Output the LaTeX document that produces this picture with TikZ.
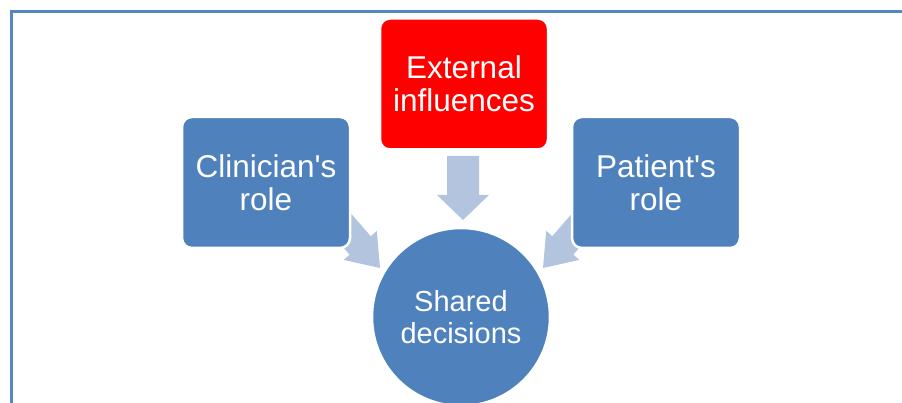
\documentclass[tikz,border=0pt]{standalone}
\usepackage{fontspec}
\setmainfont{Liberation Sans}[Ligatures=TeXOff]
\definecolor{accblue}{RGB}{79,129,189}
\definecolor{arrblue}{RGB}{179,196,222}
\definecolor{framecol}{RGB}{84,134,192}
\tikzset{
  rolebox/.style={draw=white, line width=2.5pt, rounded corners=10pt, fill=accblue,
    minimum width=168pt, minimum height=131pt, inner sep=0pt, text=white,
    font=\fontsize{31.5}{33}\selectfont, align=center},
  hub/.style={circle, draw=white, line width=2.5pt, fill=accblue, minimum size=178pt,
    inner sep=0pt, text=white, font=\fontsize{29}{32}\selectfont, align=center},
  blockarrow/.style={fill=arrblue, draw=none}
}
\newcommand{\blockarr}[6]{% tip, angle, L, hl, hw, sw
  \begin{scope}[shift={(#1)}, rotate=#2]
    \fill[blockarrow] (0,0) -- (-#4,#5/2) -- (-#4,#6/2) -- (-#3,#6/2) -- (-#3,-#6/2) -- (-#4,-#6/2) -- (-#4,-#5/2) -- cycle;
  \end{scope}}
\begin{document}
\begin{tikzpicture}[x=1pt,y=1pt]
\useasboundingbox (0,0) rectangle (902,403);
\fill[white] (0,0) rectangle (902,403);
\draw[framecol, line width=2.5pt] (11.5,-5) -- (11.5,391.5) -- (910,391.5);
% arrows
\coordinate (tipD) at (463,183);
\coordinate (tipL) at (380,135);
\coordinate (tipR) at (543,135);
\blockarr{tipD}{-90}{64}{25}{52}{32}
\blockarr{tipL}{-48.8}{62}{30}{44}{28}
\blockarr{tipR}{228.8}{62}{30}{44}{28}
% nodes
\node[rolebox] (clin) at (266,220.5) {Clinician's\\role};
\node[rolebox, fill=red] (ext) at (464,319) {External\\influences};
\node[rolebox] (pat) at (656,220.5) {Patient's\\role};
\node[hub] (shared) at (461,86) {Shared\\decisions};
\end{tikzpicture}
\end{document}
